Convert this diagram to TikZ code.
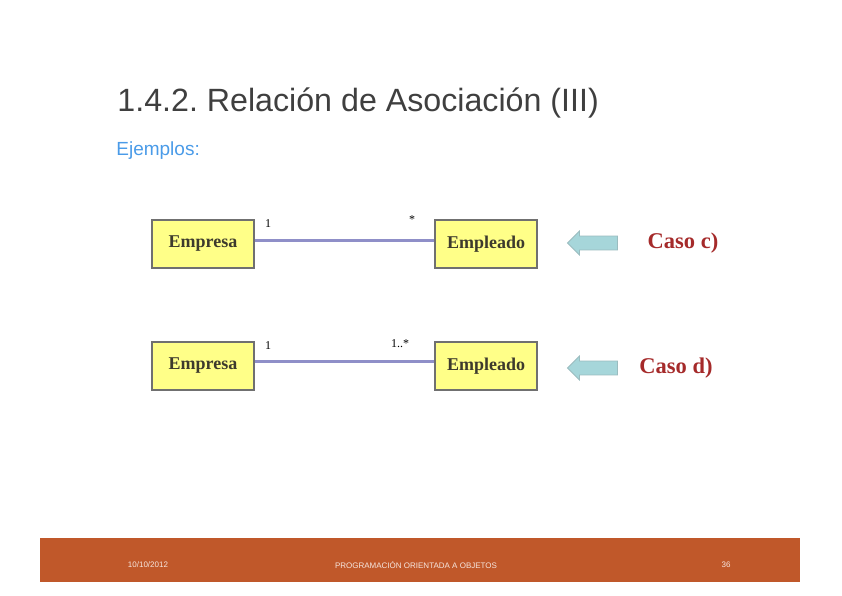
\documentclass[tikz,border=0pt]{standalone}
\usepackage{fontspec}
\setmainfont{Liberation Serif}
\setsansfont{Liberation Sans}
\usetikzlibrary{shapes.arrows}
\definecolor{titlegray}{HTML}{3F3F3F}
\definecolor{linkblue}{HTML}{4A9BE8}
\definecolor{boxyellow}{HTML}{FFFF88}
\definecolor{boxgray}{HTML}{707070}
\definecolor{assoc}{HTML}{8F8FC8}
\definecolor{arrowcyan}{HTML}{A6D6DA}
\definecolor{casored}{HTML}{A52A2A}
\definecolor{barorange}{HTML}{C0582A}
\frenchspacing

\begin{document}
\begin{tikzpicture}
            [x=1pt,y=-1pt,thick,
             clase/.style={draw=boxgray,line width=2.5pt,fill=boxyellow,minimum width=102pt,minimum height=48pt,inner sep=1pt,text=black!75!olive,font=\fontsize{18}{20}\selectfont\bfseries},
             mult/.style={font=\fontsize{12}{13}\selectfont,inner sep=1pt},
             flecha/.style={single arrow,shape border rotate=180,fill=arrowcyan,draw=arrowcyan!70!gray,minimum height=50pt,minimum width=24pt,single arrow head extend=2.5pt,inner sep=3pt},
             caso/.style={font=\fontsize{22.5}{24}\selectfont\bfseries,text=casored},
             pie/.style={text=white!85!barorange,font=\sffamily\fontsize{8}{9}\selectfont}]
            \useasboundingbox (0,0) rectangle (842,595);
            \node [anchor=west,inner sep=0pt,text=titlegray,font=\sffamily\fontsize{32.2}{36}\selectfont] (T) at (117,103) {1.4.2. Relación de Asociación (III)};
            \node [anchor=west,inner sep=0pt,text=linkblue,font=\sffamily\fontsize{19}{22}\selectfont] (S) at (116,151) {Ejemplos:};

            % caso c
            \node [clase] (E1) at (203,244) {Empresa};
            \node [clase] (P1) at (486,244) {Empleado};
            \path [draw=assoc,line width=3pt] ([yshift=4pt]E1.east) edge ([yshift=4pt]P1.west);
            \node [mult] (m1) at (268,224) {1};
            \node [mult] (m2) at (412,220) {*};
            \node [flecha] (A1) at (596,243) {};
            \node [caso] (C1) at (683,243) {Caso c)};

            % caso d
            \node [clase] (E2) at (203,366) {Empresa};
            \node [clase] (P2) at (486,366) {Empleado};
            \path [draw=assoc,line width=3pt] ([yshift=5pt]E2.east) edge ([yshift=5pt]P2.west);
            \node [mult] (m3) at (268,346) {1};
            \node [mult] (m4) at (400,344) {1..*};
            \node [flecha] (A2) at (596,368) {};
            \node [caso] (C2) at (676,368) {Caso d)};

            % pie
            \fill [barorange] (40,538) rectangle (800,582);
            \node [pie] (F1) at (148,565) {10/10/2012};
            \node [pie] (F2) at (416,565) {PROGRAMACIÓN ORIENTADA A OBJETOS};
            \node [pie] (F3) at (726,565) {36};
        \end{tikzpicture}
\end{document}
